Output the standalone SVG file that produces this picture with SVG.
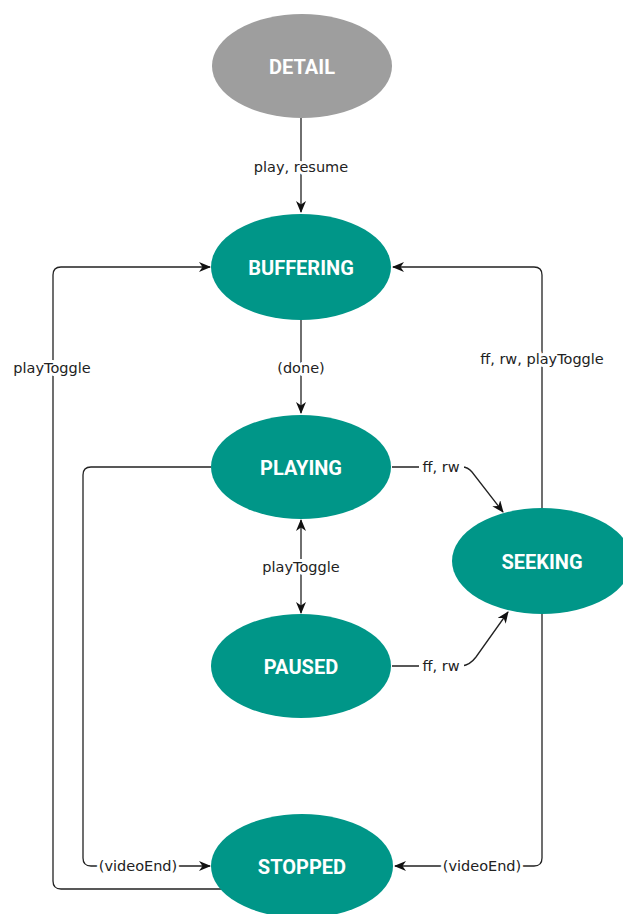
<svg xmlns="http://www.w3.org/2000/svg" width="623" height="914" viewBox="0 0 623 914">
<style>
.n{fill:#009688}
.g{fill:#9e9e9e}
.t{font-family:Roboto,"Liberation Sans",sans-serif;font-weight:bold;font-size:20px;fill:#fff;text-anchor:middle;dominant-baseline:central}
.e{fill:none;stroke:#222;stroke-width:1.3}
.b{fill:#fff}
.l{font-family:"DejaVu Sans","Liberation Sans",sans-serif;font-size:14.5px;fill:#222;text-anchor:middle;dominant-baseline:central;stroke:#fff;stroke-width:6px;paint-order:stroke;stroke-linejoin:round}
</style>
<defs>
<marker id="a" viewBox="0 0 12 10" refX="11" refY="5" markerWidth="12" markerHeight="10" markerUnits="userSpaceOnUse" orient="auto-start-reverse">
<path d="M0,0 L12,5 L0,10 L3.5,5 z" fill="#111"/>
</marker>
</defs>
<g id="connectors">
<path class="e" d="M301,118 V212" marker-end="url(#a)"/>
<path class="e" d="M301,320 V413" marker-end="url(#a)"/>
<path class="e" d="M301,520 V613" marker-start="url(#a)" marker-end="url(#a)"/>
<path class="e" d="M392,467 H462 Q468,467 472,472 L503,512" marker-end="url(#a)"/>
<path class="e" d="M392,666 H462 Q470,665 476,657 L508,612" marker-end="url(#a)"/>
<path class="e" d="M542,508 V275 Q542,267 534,267 H393" marker-end="url(#a)"/>
<path class="e" d="M542,613 V858 Q542,866 534,866 H395" marker-end="url(#a)"/>
<path class="e" d="M211,467 H91 Q83,467 83,475 V858 Q83,866 91,866 H210" marker-end="url(#a)"/>
<path class="e" d="M222,889 H61 Q53,889 53,881 V275 Q53,267 61,267 H210" marker-end="url(#a)"/>
<rect class="b" x="419" y="459" width="45" height="16"/>
<rect class="b" x="419" y="658" width="45" height="16"/>
<text class="l" x="301" y="167">play, resume</text>
<text class="l" x="301" y="368">(done)</text>
<text class="l" x="301" y="567">playToggle</text>
<text class="l" x="52" y="368">playToggle</text>
<text class="l" x="542" y="359">ff, rw, playToggle</text>
<text class="l" x="441" y="467">ff, rw</text>
<text class="l" x="441" y="666">ff, rw</text>
<text class="l" x="138" y="866">(videoEnd)</text>
<text class="l" x="482" y="866">(videoEnd)</text>
</g>
<g id="detail"><ellipse class="g" cx="302" cy="66" rx="90" ry="52"/><text class="t" x="302" y="67">DETAIL</text></g>
<g id="buffering"><ellipse class="n" cx="301" cy="267" rx="90" ry="53"/><text class="t" x="301" y="268">BUFFERING</text></g>
<g id="playing"><ellipse class="n" cx="301" cy="467" rx="90" ry="52"/><text class="t" x="301" y="468">PLAYING</text></g>
<g id="paused"><ellipse class="n" cx="301" cy="666" rx="90" ry="52"/><text class="t" x="301" y="667">PAUSED</text></g>
<g id="seeking"><ellipse class="n" cx="542" cy="561" rx="90" ry="53"/><text class="t" x="542" y="562">SEEKING</text></g>
<g id="stopped"><ellipse class="n" cx="302" cy="866" rx="91" ry="52"/><text class="t" x="302" y="867">STOPPED</text></g>
</svg>
